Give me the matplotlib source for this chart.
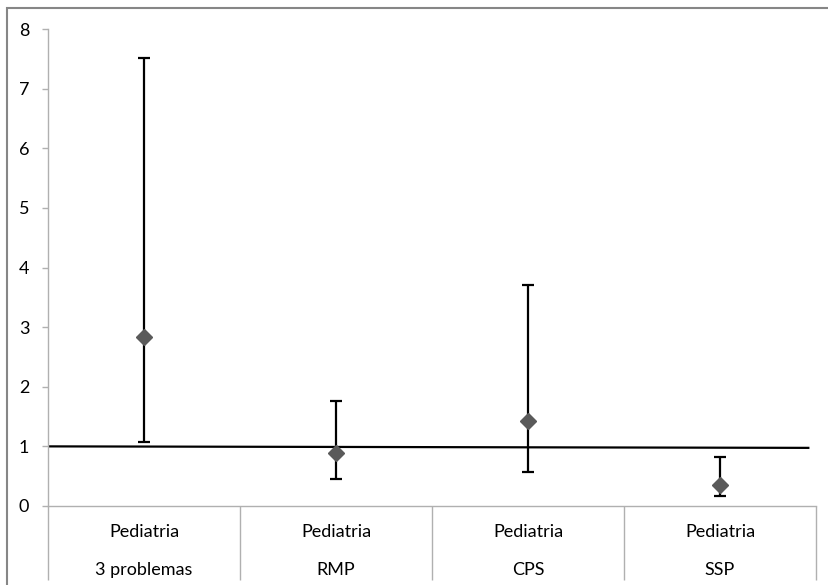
import matplotlib.pyplot as plt
from matplotlib.patches import Rectangle
import numpy as np

# data
categories = ["Pediatria\n3 problemas", "Pediatria\nRMP", "Pediatria\nCPS", "Pediatria\nSSP"]
estimate = [2.83, 0.89, 1.43, 0.35]
lower = [1.08, 0.45, 0.57, 0.16]
upper = [7.51, 1.76, 3.71, 0.83]

ref_x = [0.0, 3.96]
ref_y = [1.0, 0.975]

plt.rcParams['font.family'] = ['Lato', 'DejaVu Sans']

W, H = 829, 585
fig = plt.figure(figsize=(W / 100, H / 100), dpi=100)
ax = fig.add_axes([48 / W, 1 - 506 / H, (816 - 48) / W, (506 - 29) / H])

xpos = np.arange(len(categories)) + 0.5
est = np.array(estimate)
yerr = [est - np.array(lower), np.array(upper) - est]

ax.plot(ref_x, ref_y, color="black", lw=1.6, zorder=2)
ax.errorbar(xpos, est, yerr=yerr, fmt="none", ecolor="black", elinewidth=1.6,
            capsize=4, capthick=1.6, zorder=3)
ax.plot(xpos, est, linestyle="none", marker="D", markersize=8,
        color="#5a5a5a", zorder=4)

ax.set_xlim(0, 4)
ax.set_ylim(0, 8)
ax.set_yticks(range(9))

ax.set_xticks(xpos)
ax.set_xticklabels(categories, linespacing=2.7)
ax.set_xticks(np.arange(5), minor=True)
ax.tick_params(axis="x", which="major", length=0, pad=13, labelsize=13, colors="#000000")
ax.tick_params(axis="x", which="minor", length=53, width=1, color="#b0b0b0", direction="out")
ax.tick_params(axis="y", length=4.5, width=1, color="#b0b0b0", pad=9, labelsize=13)

for s in ("top", "right"):
    ax.spines[s].set_visible(False)
for s in ("left", "bottom"):
    ax.spines[s].set_color("#b0b0b0")
    ax.spines[s].set_linewidth(1)

fig.patches.append(Rectangle((7.5 / W, -0.05), 1.0, 1 - 7.5 / H + 0.05,
                             transform=fig.transFigure, fill=False,
                             edgecolor="#868686", lw=1.5))

fig.savefig("out.png", dpi=100)
